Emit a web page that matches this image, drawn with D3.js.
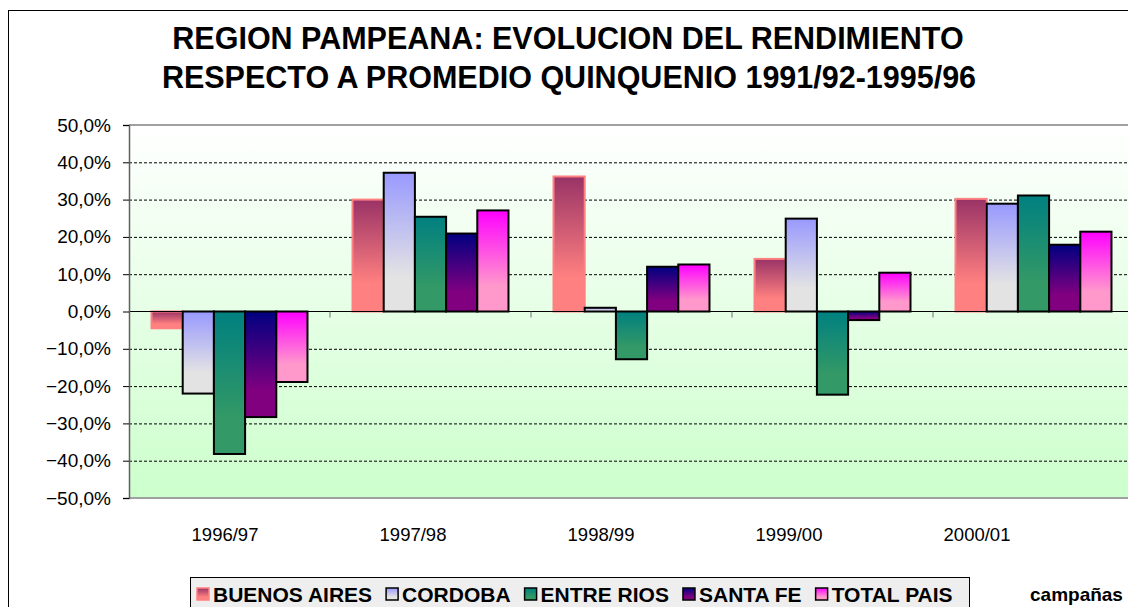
<!DOCTYPE html>
<html>
<head>
<meta charset="utf-8">
<script src="https://cdn.jsdelivr.net/npm/d3@7"></script>
<style>
  html, body { margin: 0; padding: 0; background: #fff; }
  svg { display: block; font-family: "Liberation Sans", Arial, sans-serif; }
</style>
</head>
<body>
<svg id="chart" width="1128" height="607"></svg>
<script>
const categories = ['1996/97', '1997/98', '1998/99', '1999/00', '2000/01']
const seriesNames = ['BUENOS AIRES', 'CORDOBA', 'ENTRE RIOS', 'SANTA FE', 'TOTAL PAIS']
const buenosAires = [-4.5, 30.0, 36.2, 14.1, 30.2]
const cordoba = [-22.0, 37.2, 1.0, 24.9, 28.9]
const entreRios = [-38.2, 25.4, -12.8, -22.3, 31.1]
const santaFe = [-28.3, 20.9, 12.0, -2.3, 17.9]
const totalPais = [-18.9, 27.1, 12.6, 10.4, 21.4]
const yTicks = [-50, -40, -30, -20, -10, 0, 10, 20, 30, 40, 50]

const seriesValues = [buenosAires, cordoba, entreRios, santaFe, totalPais]
// top / bottom colours of each bar's fill
const gradTop = ['#993366', '#9999ff', '#008080', '#000080', '#ff00ff']
const gradBottom = ['#ff8080', '#e3e3e3', '#339966', '#800080', '#ff99cc']
const strokes = ['#ff8080', '#000', '#000', '#000', '#000']

const svg = d3.select('#chart')
const defs = svg.append('defs')

const plot = {left: 129, right: 1134, top: 125, bottom: 498}

// outer frame
svg.append('rect')
  .attr('x', 8.5).attr('y', 10.5)
  .attr('width', 1140).attr('height', 620)
  .attr('fill', '#fff').attr('stroke', '#000').attr('stroke-width', 1)

// title
const title = svg.append('text')
  .attr('text-anchor', 'middle')
  .attr('font-weight', 'bold')
  .attr('font-size', 30.5)
title.append('tspan').attr('x', 568).attr('y', 49).text('REGION PAMPEANA: EVOLUCION DEL RENDIMIENTO')
title.append('tspan').attr('x', 569).attr('y', 88).text('RESPECTO A PROMEDIO QUINQUENIO 1991/92-1995/96')

// plot background
const bg = defs.append('linearGradient').attr('id', 'bgGrad')
  .attr('x1', 0).attr('y1', 0).attr('x2', 0).attr('y2', 1)
bg.append('stop').attr('offset', 0).attr('stop-color', '#ffffff')
bg.append('stop').attr('offset', 1).attr('stop-color', '#ccffcc')

svg.append('rect')
  .attr('x', plot.left).attr('y', plot.top)
  .attr('width', plot.right - plot.left).attr('height', plot.bottom - plot.top)
  .attr('fill', 'url(#bgGrad)')

const x0 = d3.scaleBand()
  .domain(categories)
  .range([plot.left, plot.right])
  .paddingInner(0.224)
  .paddingOuter(0.112)

const x1 = d3.scaleBand()
  .domain(seriesNames)
  .range([0, x0.bandwidth()])

// category labels sit on a slightly narrower spacing than the bars
const xLabel = d3.scaleBand()
  .domain(categories)
  .range([131, 1071])

const y = d3.scaleLinear()
  .domain([-50, 50])
  .range([plot.bottom, plot.top])

// gridlines
svg.append('g')
  .selectAll('line')
  .data(yTicks.filter(d => d !== 0 && Math.abs(d) !== 50))
  .enter()
  .append('line')
  .attr('x1', plot.left).attr('x2', plot.right)
  .attr('y1', d => y(d) + 0.5).attr('y2', d => y(d) + 0.5)
  .attr('stroke', '#000')
  .attr('stroke-width', 1)
  .attr('stroke-dasharray', '3,2')

// plot border top / bottom
svg.append('line')
  .attr('x1', plot.left).attr('x2', plot.right)
  .attr('y1', plot.top).attr('y2', plot.top)
  .attr('stroke', '#a0a0a0').attr('stroke-width', 2)
svg.append('line')
  .attr('x1', plot.left).attr('x2', plot.right)
  .attr('y1', plot.bottom).attr('y2', plot.bottom)
  .attr('stroke', '#a0a0a0').attr('stroke-width', 2)

// bar gradients
seriesNames.forEach((name, i) => {
  const g = defs.append('linearGradient').attr('id', 'grad' + i)
    .attr('x1', 0).attr('y1', 0).attr('x2', 0).attr('y2', 1)
  g.append('stop').attr('offset', 0).attr('stop-color', gradTop[i])
  g.append('stop').attr('offset', 0.75).attr('stop-color', gradBottom[i])
})

// bars
const groups = svg.append('g')
  .selectAll('g')
  .data(categories)
  .enter()
  .append('g')
  .attr('transform', d => 'translate(' + x0(d) + ',0)')

groups.selectAll('rect')
  .data((d, ci) => seriesNames.map((name, si) => ({name, si, value: seriesValues[si][ci]})))
  .enter()
  .append('rect')
  .attr('x', d => x1(d.name))
  .attr('y', d => y(Math.max(0, d.value)))
  .attr('width', x1.bandwidth())
  .attr('height', d => Math.abs(y(d.value) - y(0)))
  .attr('fill', d => 'url(#grad' + d.si + ')')
  .attr('stroke', d => strokes[d.si])
  .attr('stroke-width', 2)

// zero line
svg.append('line')
  .attr('x1', plot.left).attr('x2', plot.right)
  .attr('y1', y(0)).attr('y2', y(0))
  .attr('stroke', '#000').attr('stroke-width', 1)

// category ticks on zero line
const step = x0.step()
svg.append('g')
  .selectAll('line')
  .data(categories.slice(1))
  .enter()
  .append('line')
  .attr('x1', d => x0(d) - step * 0.112)
  .attr('x2', d => x0(d) - step * 0.112)
  .attr('y1', y(0)).attr('y2', y(0) + 6)
  .attr('stroke', '#707070').attr('stroke-width', 1)

// y axis
const yAxis = d3.axisLeft(y)
  .tickValues(yTicks)
  .tickSize(6)
  .tickPadding(12)
  .tickFormat(d => d3.format('.1f')(d).replace('.', ',') + '%')

const yg = svg.append('g')
  .attr('transform', 'translate(' + plot.left + ',0)')
  .call(yAxis)
yg.select('.domain').attr('stroke', '#606060').attr('stroke-width', 1.5)
yg.selectAll('.tick line').attr('stroke', '#000')
yg.selectAll('.tick text')
  .attr('font-size', 19)
  .attr('font-family', '"Liberation Sans", Arial, sans-serif')
  .attr('fill', '#000')

// category labels
svg.append('g')
  .selectAll('text')
  .data(categories)
  .enter()
  .append('text')
  .attr('x', d => xLabel(d) + xLabel.bandwidth() / 2)
  .attr('y', 541)
  .attr('text-anchor', 'middle')
  .attr('font-size', 18.5)
  .text(d => d)

// legend
const legend = svg.append('g')
legend.append('rect')
  .attr('x', 190.5).attr('y', 577.5)
  .attr('width', 779).attr('height', 40)
  .attr('fill', '#eeeeee').attr('stroke', '#000').attr('stroke-width', 1)

let lx = 197
seriesNames.forEach((name, i) => {
  legend.append('rect')
    .attr('x', lx).attr('y', 588)
    .attr('width', 12).attr('height', 12)
    .attr('fill', 'url(#grad' + i + ')')
    .attr('stroke', strokes[i])
    .attr('stroke-width', 1.5)
  const t = legend.append('text')
    .attr('x', lx + 16).attr('y', 602)
    .attr('font-size', 21)
    .attr('font-weight', 'bold')
    .text(name)
  lx += 16 + t.node().getComputedTextLength() + 14
})

svg.append('text')
  .attr('x', 1030).attr('y', 601)
  .attr('font-size', 19)
  .attr('font-weight', 'bold')
  .text('campañas')
</script>
</body>
</html>
